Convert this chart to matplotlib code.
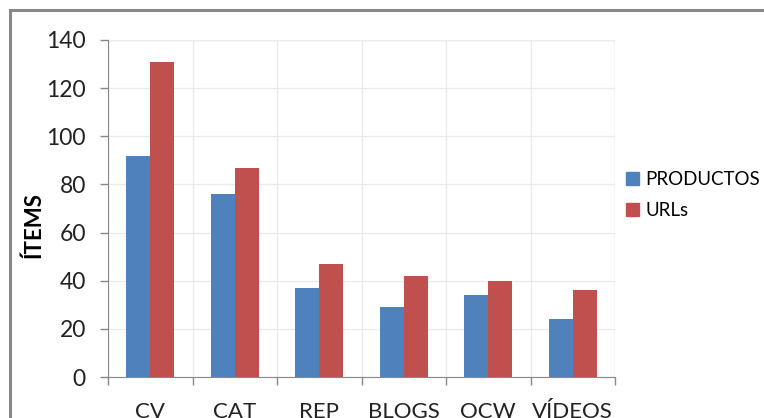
import matplotlib
matplotlib.use('Agg')
import matplotlib.pyplot as plt
from matplotlib.lines import Line2D
import numpy as np

categories = ['CV', 'CAT', 'REP', 'BLOGS', 'OCW', 'VÍDEOS']
productos = [92, 76, 37, 29, 34, 24]
urls = [131, 87, 47, 42, 40, 36]
y_ticks = [0, 20, 40, 60, 80, 100, 120, 140]

plt.rcParams['font.family'] = ['Lato', 'DejaVu Sans']

W, H = 764, 418
fig = plt.figure(figsize=(W / 100, H / 100), dpi=100)
fig.patch.set_facecolor('white')

# axes box in pixel coordinates (left, top, right, bottom)
x0, y0, x1, y1 = 108, 40, 615, 377
ax = fig.add_axes([x0 / W, 1 - y1 / H, (x1 - x0) / W, (y1 - y0) / H])

n = len(categories)
x = np.arange(n)
bw = 1 / 3.5  # Excel gap width 150%
ax.bar(x - bw / 2, productos, bw, color='#4F81BD', label='PRODUCTOS', zorder=3)
ax.bar(x + bw / 2, urls, bw, color='#C0504D', label='URLs', zorder=3)

ax.set_xlim(-0.5, n - 0.5)
ax.set_ylim(0, 140)
ax.set_yticks(y_ticks)
ax.set_yticklabels([str(v) for v in y_ticks], fontsize=16.5, color='#222222')

# category labels between boundary ticks
ax.set_xticks(x)
ax.set_xticklabels(categories, fontsize=16, color='#222222')
ax.tick_params(axis='x', length=0, pad=18)
ax.set_xticks(np.arange(-0.5, n, 1), minor=True)
ax.tick_params(axis='x', which='minor', length=6, color='#888888', width=1)
ax.tick_params(axis='y', length=6, color='#888888', width=1, pad=10)

ax.grid(True, axis='y', color='#ebebeb', lw=1, zorder=0)
ax.grid(True, axis='x', which='minor', color='#ebebeb', lw=1, zorder=0)
ax.grid(False, axis='x', which='major')

for s in ['top', 'right']:
    ax.spines[s].set_visible(False)
ax.spines['left'].set_color('#888888')
ax.spines['bottom'].set_color('#888888')
ax.axhline(140, color='#ebebeb', lw=1, zorder=0)
ax.axvline(n - 0.5, color='#ebebeb', lw=1, zorder=0)

ax.set_ylabel('ÍTEMS', fontsize=16, fontweight='bold')
ax.yaxis.set_label_coords(-0.125, 0.45)

handles = [plt.Rectangle((0, 0), 1, 1, color='#4F81BD'),
           plt.Rectangle((0, 0), 1, 1, color='#C0504D')]
fig.legend(handles, ['PRODUCTOS', 'URLs'], loc='upper left',
           bbox_to_anchor=(609 / W, 1 - 154 / H), frameon=False,
           fontsize=13.5, handlelength=0.7, handleheight=0.7,
           handletextpad=0.35, labelspacing=0.75)

# outer chart border (runs off the right and bottom edges)
fig.add_artist(Line2D([10 / W, 1], [1 - 10 / H, 1 - 10 / H], color='#888888', lw=2.2))
fig.add_artist(Line2D([10 / W, 10 / W], [0, 1 - 10 / H], color='#888888', lw=2.2))

fig.savefig('out.png', dpi=100)
